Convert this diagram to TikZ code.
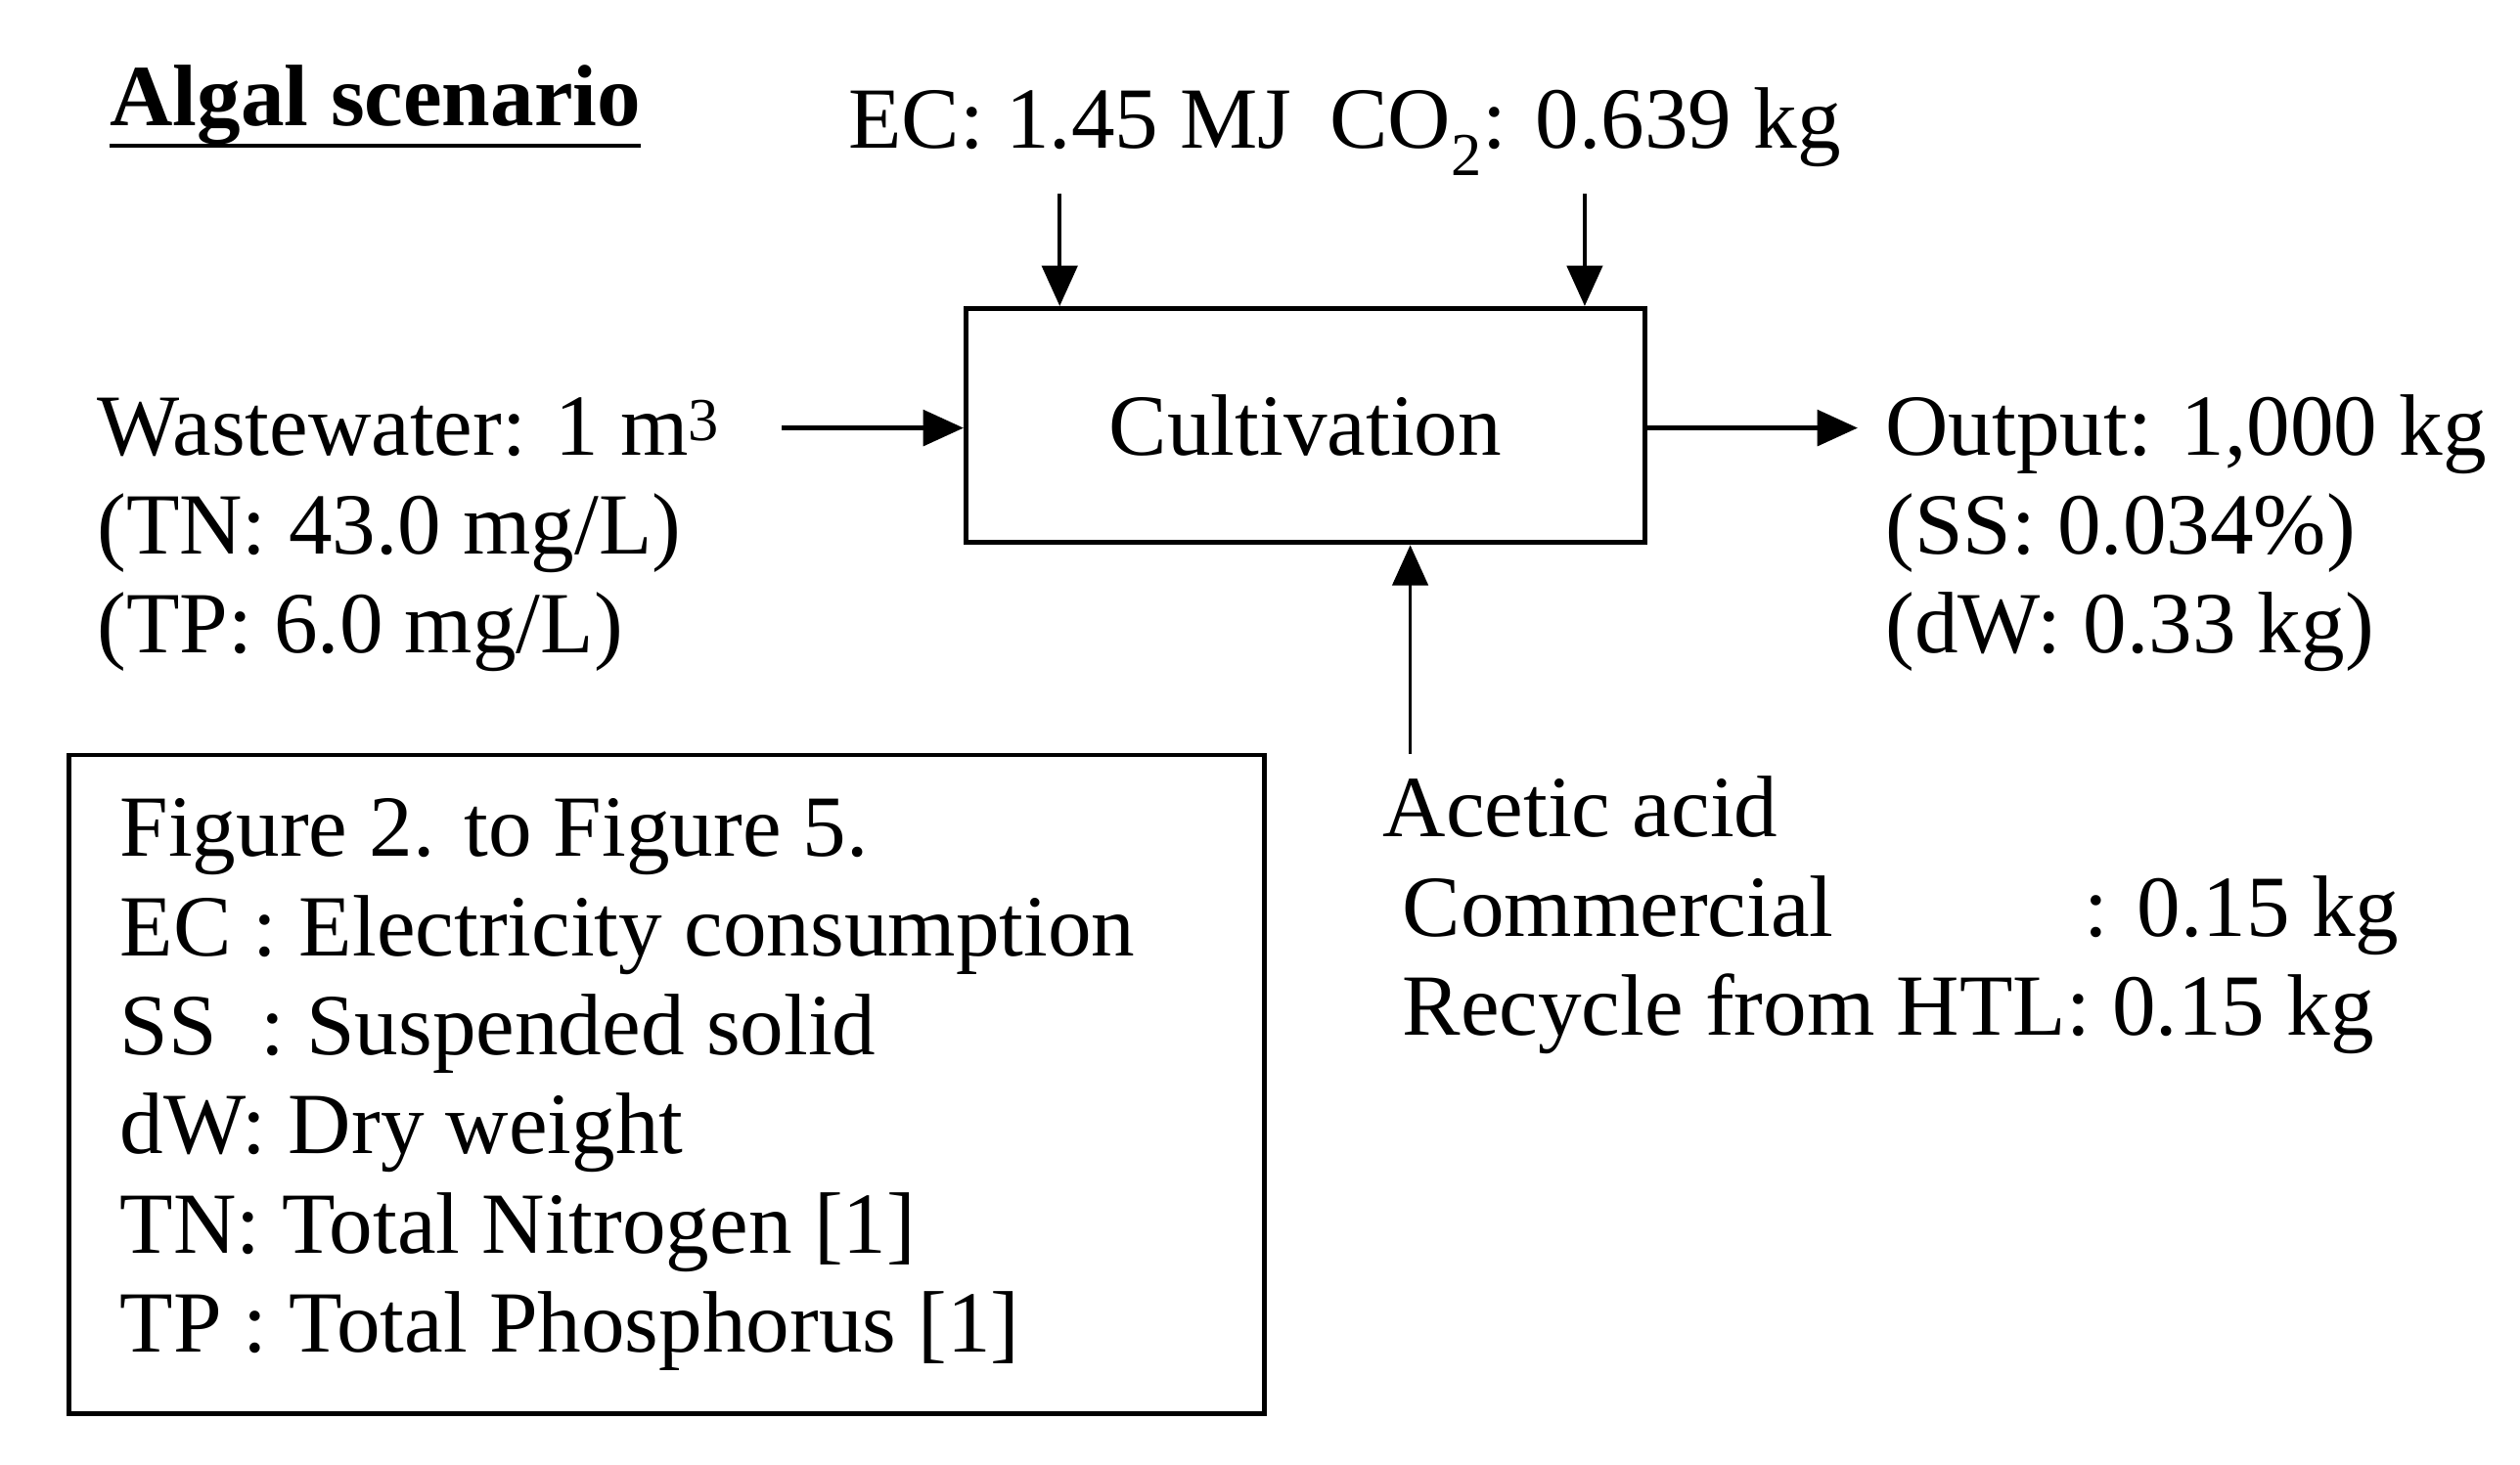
\documentclass[tikz,border=0pt]{standalone}
\usepackage{fontspec}
\setmainfont{Liberation Serif}
\usetikzlibrary{arrows.meta}
\begin{document}
\begin{tikzpicture}[x=1pt,y=-1pt,
  txt/.style={anchor=base west,inner sep=0pt,font=\fontsize{54}{61}\selectfont},
  arr/.style={line width=2.2pt,-{Triangle[length=25pt,width=22pt]}},
  harr/.style={arr,line width=3pt},
  boxline/.style={line width=3pt}]
\useasboundingbox (0,0) rectangle (1560,907);
% title
\node[txt] (title) at (68,78) {\textbf{Algal scenario}};
\draw[line width=2.5pt] ([yshift=-12pt]title.base west) -- ([yshift=-12pt]title.base east);
% top inputs
\node[txt] (ec) at (525,92) {EC: 1.45 MJ};
\node[txt] (co2) at (823,92) {CO\textsubscript{2}: 0.639 kg};
% process box
\node[draw,boxline,minimum width=420pt,minimum height=145pt,inner sep=0pt,
      font=\fontsize{54}{61}\selectfont] (cult) at (808,263.5) {Cultivation};
\coordinate (ecs) at (656,120);
\coordinate (cos) at (981,120);
\draw[arr] (ecs) -- (ecs |- cult.north);
\draw[arr] (cos) -- (cos |- cult.north);
% left input
\node[txt] (ww) at (60,282) {Wastewater: 1 m\textsuperscript{3}};
\node[txt] (tn) at (60,343) {(TN: 43.0 mg/L)};
\node[txt] (tp) at (60,404) {(TP: 6.0 mg/L)};
\coordinate (wws) at (484,265);
\draw[harr] (wws) -- (cult.west |- wws);
% output
\coordinate (oute) at (1150,265);
\draw[harr] (cult.east |- oute) -- (oute);
\node[txt] (out) at (1167,282) {Output: 1,000 kg};
\node[txt] (ss) at (1167,343) {(SS: 0.034\%)};
\node[txt] (dw) at (1167,404) {(dW: 0.33 kg)};
% acetic acid
\coordinate (acs) at (873,467);
\draw[arr] (acs) -- (acs |- cult.south);
\node[txt] (ac) at (856,518) {Acetic acid};
\node[txt] (com) at (868,580) {Commercial};
\node[txt] (comv) at (1290,580) {: 0.15 kg};
\node[txt] (rec) at (868,641) {Recycle from HTL: 0.15 kg};
% legend
\node[draw,boxline,inner sep=0pt,minimum width=740pt,minimum height=408pt] (leg) at (412.5,671.5) {};
\node[txt] (l1) at (74,530) {Figure 2. to Figure 5.};
\node[txt] (l2) at (74,592) {EC : Electricity consumption};
\node[txt] (l3) at (74,653) {SS\ \ : Suspended solid};
\node[txt] (l4) at (74,714) {dW: Dry weight};
\node[txt] (l5) at (74,776) {TN: Total Nitrogen [1]};
\node[txt] (l6) at (74,837) {TP : Total Phosphorus [1]};
\end{tikzpicture}
\end{document}
